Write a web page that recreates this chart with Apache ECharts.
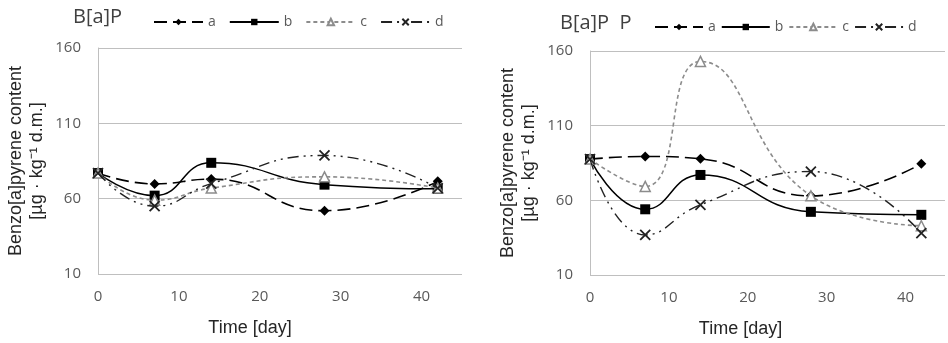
<!DOCTYPE html>
<html>
<head>
<meta charset="utf-8">
<script src="https://cdn.jsdelivr.net/npm/echarts@6/dist/echarts.min.js"></script>
<style>html,body{margin:0;padding:0;background:#fff}#c{width:948px;height:343px}</style>
</head>
<body>
<div id="c"></div>
<script>
const days = [0, 7, 14, 28, 42];
const seriesNames = ['a', 'b', 'c', 'd'];
const leftA = [77, 69.8, 73, 52, 71.5];
const leftB = [77, 62, 83.8, 69.3, 66.5];
const leftC = [77, 59, 67, 74.5, 67];
const leftD = [77, 55, 70, 88.7, 67];
const rightA = [87.6, 89.4, 87.8, 63, 84.5];
const rightB = [87.6, 54, 77, 52.3, 50.3];
const rightC = [87.6, 69.3, 153, 63, 43];
const rightD = [87.6, 36.8, 57, 79.3, 38];
const yTicks = [10, 60, 110, 160];
const xTicks = [0, 10, 20, 30, 40];
const titles = ['B[a]P', 'B[a]P  P'];
const yTitle = 'Benzo[a]pyrene content\n[µg · kg\u207B\u00B9 d.m.]';
const xTitle = 'Time [day]';

const styles = {
  a: {symbol: 'diamond', symbolSize: 10, itemStyle: {color: '#000'}, lineStyle: {color: '#000', width: 1.6, type: [13, 6]}},
  b: {symbol: 'rect', symbolSize: 10, itemStyle: {color: '#000'}, lineStyle: {color: '#000', width: 1.5, type: 'solid'}},
  c: {symbol: 'triangle', symbolSize: 10, itemStyle: {color: '#fff', borderColor: '#8c8c8c', borderWidth: 1.5}, lineStyle: {color: '#8c8c8c', width: 1.6, type: [4, 3]}},
  d: {symbol: 'path://M0,0L10,10M10,0L0,10', symbolSize: 10, itemStyle: {color: 'none', borderColor: '#222', borderWidth: 1.8}, lineStyle: {color: '#222', width: 1.4, type: [11, 5, 2, 5, 2, 5]}}
};

function pairs(vals) { return days.map((d, i) => [d, vals[i]]); }

const data = [[leftA, leftB, leftC, leftD], [rightA, rightB, rightC, rightD]];
const series = [];
data.forEach((set, gi) => {
  set.forEach((vals, si) => {
    const n = seriesNames[si];
    series.push(Object.assign({
      name: n, type: 'line', xAxisIndex: gi, yAxisIndex: gi, smooth: 0.5,
      data: pairs(vals), showAllSymbol: true, z: 3 + si
    }, JSON.parse(JSON.stringify(styles[n])), {symbol: styles[n].symbol}));
  });
});

const tickFont = {fontFamily: 'Open Sans', fontSize: 15, color: '#595959'};
const gridColor = '#bfbfbf';

function xAxis(gi, shift) {
  return {
    type: 'value', gridIndex: gi, min: 0, max: 45, interval: 10,
    axisLine: {show: false}, axisTick: {show: false}, splitLine: {show: false},
    axisLabel: Object.assign({margin: 15, formatter: v => xTicks.includes(v) ? String(v) : ''}, tickFont),
    name: xTitle, nameLocation: 'middle', nameGap: 45,
    nameTextStyle: {fontFamily: 'Liberation Sans', fontSize: 18, color: '#262626', padding: [0, shift * 2, 0, 0]}
  };
}
function yAxis(gi) {
  return {
    type: 'value', gridIndex: gi, min: yTicks[0], max: yTicks[yTicks.length - 1], interval: 50,
    axisLine: {show: true, lineStyle: {color: gridColor, width: 1}}, axisTick: {show: false},
    splitLine: {show: true, lineStyle: {color: gridColor, width: 1}},
    axisLabel: Object.assign({margin: 17, formatter: v => yTicks.includes(v) ? String(v) : ''}, tickFont),
    name: yTitle, nameLocation: 'middle', nameGap: 50, nameRotate: 90,
    nameTextStyle: {fontFamily: 'Liberation Sans', fontSize: 18, color: '#262626', lineHeight: 21, align: 'center'}
  };
}

const chart = echarts.init(document.getElementById('c'), null, {renderer: 'canvas'});
chart.setOption({
  animation: false,
  title: [
    {text: titles[0], left: 68, top: 2, textStyle: {fontFamily: 'Open Sans', fontSize: 20, fontWeight: 'normal', color: '#404040'}},
    {text: titles[1], left: 555, top: 8, textStyle: {fontFamily: 'Open Sans', fontSize: 20, fontWeight: 'normal', color: '#404040'}}
  ],
  legend: [
    {data: seriesNames, left: 148, top: 10, itemWidth: 49, itemHeight: 8, itemGap: 13,
     textStyle: {fontFamily: 'Open Sans', fontSize: 14, color: '#595959'}},
    {data: seriesNames, left: 649, top: 15, itemWidth: 48, itemHeight: 8, itemGap: 5,
     textStyle: {fontFamily: 'Open Sans', fontSize: 14, color: '#595959'}}
  ],
  grid: [
    {left: 98, top: 48, width: 364, height: 226},
    {left: 590, top: 51, width: 362, height: 224}
  ],
  xAxis: [xAxis(0, 30), xAxis(1, 27)],
  yAxis: [yAxis(0), yAxis(1)],
  series: series
});
</script>
</body>
</html>
